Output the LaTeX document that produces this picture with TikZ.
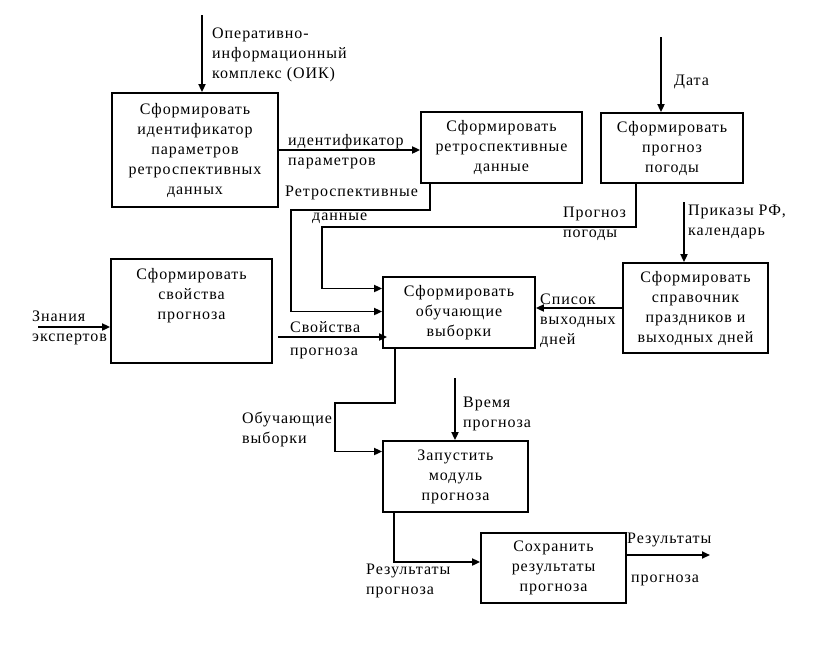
\documentclass[tikz,border=0pt]{standalone}
\usepackage{fontspec}
\setmainfont{Liberation Serif}[LetterSpace=6]
\usetikzlibrary{arrows.meta,calc}
\newcommand{\dfont}{\fontsize{16}{20}\selectfont}
\begin{document}
\begin{tikzpicture}[x=1pt,y=-1pt,
  box/.style={draw,line width=1.8pt,inner sep=0pt,align=center,font=\dfont},
  lbl/.style={inner sep=0pt,align=left,font=\dfont,anchor=west},
  arr/.style={line width=1.8pt,-{Triangle[length=8pt,width=7pt]}},
  ln/.style={line width=1.8pt}]
\useasboundingbox (0,0) rectangle (829,659);
% boxes
\node[box,minimum width=166pt,minimum height=114pt] (A) at (195,150) {Сформировать\\идентификатор\\параметров\\ретроспективных\\данных};
\node[box,minimum width=161pt,minimum height=71pt] (B) at (501.5,147.5) {Сформировать\\ретроспективные\\данные};
\node[box,minimum width=142pt,minimum height=70pt] (C) at (672,148) {Сформировать\\прогноз\\погоды};
\node[box,minimum width=145pt,minimum height=90pt] (E) at (695.5,308) {Сформировать\\справочник\\праздников и\\выходных дней};
\node[box,minimum width=152pt,minimum height=71pt] (D) at (459,312.5) {Сформировать\\обучающие\\выборки};
\node[box,minimum width=161pt,minimum height=104pt] (F) at (191.5,311) {};
\node[inner sep=0pt,align=center,font=\dfont] (Ft) at (191.5,296) {Сформировать\\свойства\\прогноза};
\node[box,minimum width=145pt,minimum height=71pt] (G) at (455.5,476.5) {Запустить\\модуль\\прогноза};
\node[box,minimum width=145pt,minimum height=70pt] (H) at (553.5,568) {Сохранить\\результаты\\прогноза};
% free ends
\coordinate (oik) at (202,15);
\coordinate (data) at (661,37);
\coordinate (prk) at (684,202);
\coordinate (zn) at (38,327);
\coordinate (vr) at (455,378);
\coordinate (res) at (710,555);
% connectors
\draw[arr] (oik) -- (oik |- A.north);
\draw[arr] (A.east) -- (A.east -| B.west);
\draw[arr] ([xshift=10pt]B.south west) -- ++(0,26) -| ([xshift=-91pt,yshift=1pt]D.west) -- ([yshift=1pt]D.west);
\draw[arr] ([xshift=36pt]C.south west) -- ++(0,43) -| ([xshift=-60pt,yshift=24pt]D.west) -- ([yshift=24pt]D.west);
\draw[arr] (data) -- (data |- C.north);
\draw[arr] (prk) -- (prk |- E.north);
\draw[arr] (E.west) -- (E.west -| D.east);
\draw[arr] (zn) -- (zn -| F.west);
\draw[arr] ([xshift=5pt,yshift=-26pt]F.east) -- ([xshift=5pt,yshift=-26pt]F.east -| D.west);
\draw[arr] ([xshift=13pt]D.south west) -- ++(0,54) -| ([xshift=-47pt,yshift=25pt]G.west) -- ([yshift=25pt]G.west);
\draw[arr] (vr) -- (vr |- G.north);
\draw[arr] ([xshift=12pt]G.south west) |- ([yshift=6pt]H.west);
\draw[arr] (H.east |- res) -- (res);
% labels
\node[lbl] (oikl) at (212,55) {Оперативно-\\информационный\\комплекс (ОИК)};
\node[lbl] (idl) at (288,152) {идентификатор\\параметров};
\node[lbl] (retl1) at (285,193) {Ретроспективные};
\node[lbl] (retl2) at (312,218) {данные};
\node[lbl] (pogl) at (563,224) {Прогноз\\погоды};
\node[lbl] (datal) at (674,82) {Дата};
\node[lbl] (prkl) at (688,222) {Приказы РФ,\\календарь};
\node[lbl] (spl) at (540,321) {Список\\выходных\\дней};
\node[lbl] (znl) at (32,328) {Знания\\экспертов};
\node[lbl,font=\fontsize{16}{23}\selectfont] (svl) at (290,340) {Свойства\\прогноза};
\node[lbl] (obl) at (242,429) {Обучающие\\выборки};
\node[lbl] (vrl) at (463,414) {Время\\прогноза};
\node[lbl] (rsl) at (366,581) {Результаты\\прогноза};
\node[lbl] (rs2) at (627,540) {Результаты};
\node[lbl] (rs3) at (631,580) {прогноза};
\end{tikzpicture}
\end{document}
